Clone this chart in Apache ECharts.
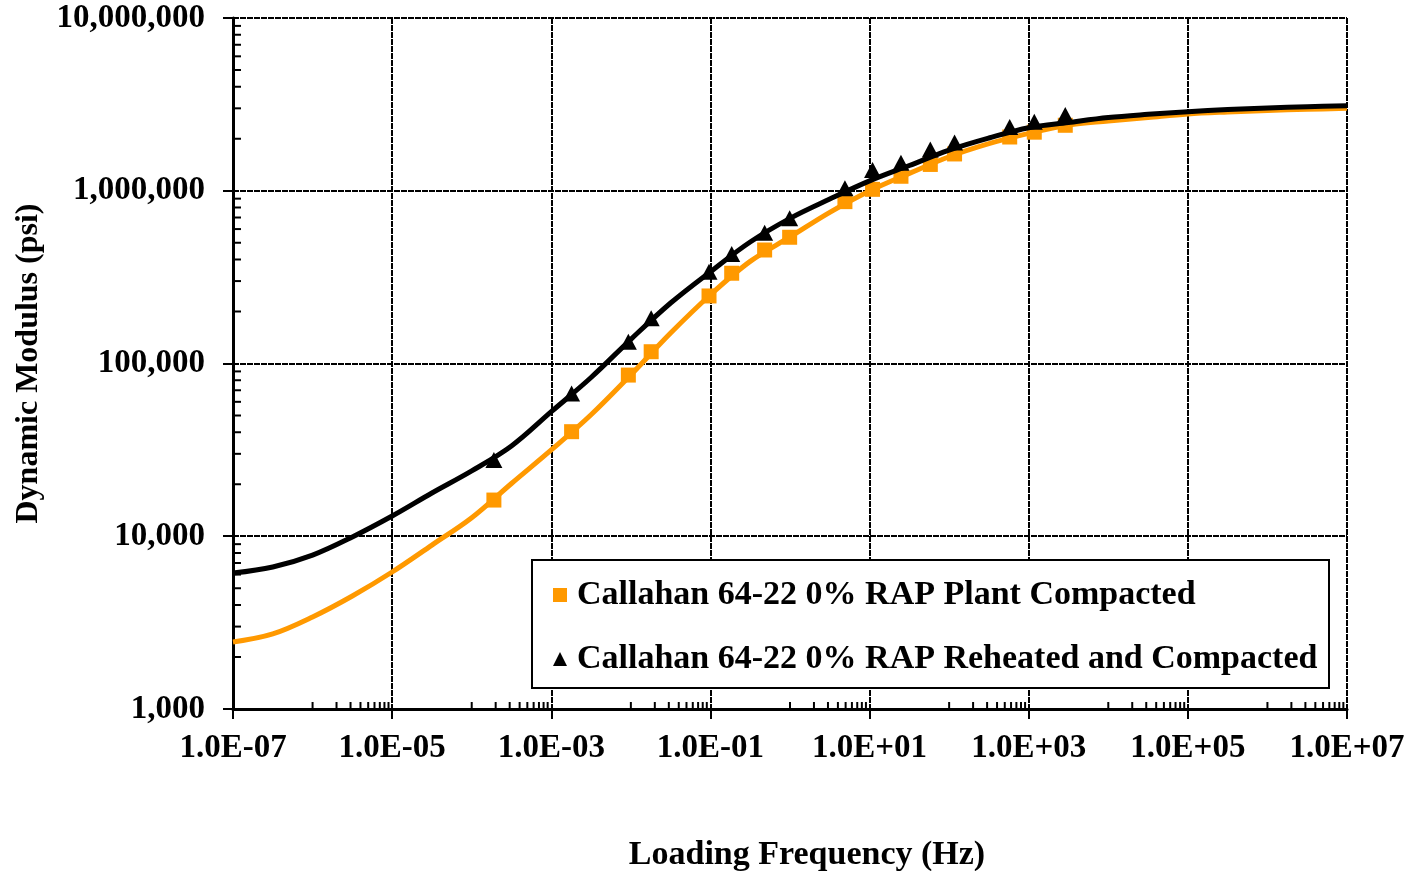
<!DOCTYPE html>
<html>
<head>
<meta charset="utf-8">
<script src="https://cdn.jsdelivr.net/npm/echarts@6/dist/echarts.min.js"></script>
<style>
  html, body { margin: 0; padding: 0; background: #fff; }
  #chart { width: 1412px; height: 871px; }
</style>
</head>
<body>
<div id="chart"></div>
<script>
const FONT = "'Times New Roman', 'Liberation Serif', serif";

// Fitted master curves, sampled every half decade of loading frequency (Hz)
const curveFreq = [1e-7, 3.16e-7, 1e-6, 3.16e-6, 1e-5, 3.16e-5, 1e-4, 3.16e-4, 1e-3, 3.16e-3,
                   1e-2, 3.16e-2, 1e-1, 3.16e-1, 1, 3.16, 10, 31.6, 100, 316,
                   1000, 3160, 1e4, 3.16e4, 1e5, 3.16e5, 1e6, 3.16e6, 1e7];
const plantCurve = [2440, 2720, 3410, 4510, 6210, 8890, 12800, 20200, 31600, 50500,
                    86000, 150000, 250000, 390000, 540000, 750000, 997000, 1260000, 1574000, 1873000,
                    2148000, 2403000, 2533000, 2655000, 2782000, 2856000, 2914000, 2962000, 3001000];
const reheatCurve = [6120, 6640, 7780, 9910, 13100, 17800, 23900, 33300, 52600, 83000,
                     138000, 224000, 340000, 505000, 692000, 895000, 1140000, 1400000, 1720000, 2020000,
                     2318000, 2485000, 2655000, 2770000, 2869000, 2954000, 3013000, 3062000, 3106000];

// Measured dynamic modulus (psi) at reduced frequency (Hz)
const testFreq = [1.9e-4, 1.8e-3, 9.3e-3, 0.018, 0.096, 0.185, 0.48, 0.99,
                  4.9, 10.9, 24.8, 58, 117, 577, 1175, 2880];
const plantMeasured = [16200, 40300, 85700, 117000, 246000, 333000, 454000, 538000,
                       865000, 1019000, 1213000, 1420000, 1633000, 2047000, 2183000, 2393000];
const reheatMeasured = [27600, 67100, 133700, 183000, 340000, 430000, 571000, 692000,
                        1033000, 1318000, 1452000, 1734000, 1901000, 2340000, 2511000, 2742000];

const seriesNames = ['Callahan 64-22 0% RAP Plant Compacted',
                     'Callahan 64-22 0% RAP Reheated and Compacted'];

// Axis ranges and minor tick marks
const X_MIN = 1e-7, X_MAX = 1e7, Y_MIN = 1000, Y_MAX = 1e7;
const xMinorDecades = [1e-6, 1e-4, 1e-2, 1, 1e2, 1e4, 1e6];
const xMinorSteps = [1, 2, 3, 4, 5, 6, 7, 8, 9];
const yMinorDecades = [1e3, 1e4, 1e5, 1e6];
const yMinorSteps = [2, 3, 4, 5, 6, 7, 8, 9];

const ORANGE = '#FF9900';

const xMinor = [];
xMinorDecades.forEach(d => xMinorSteps.forEach(s => xMinor.push([s * d, Y_MIN])));
const yMinor = [];
yMinorDecades.forEach(d => yMinorSteps.forEach(s => yMinor.push([X_MIN, s * d])));

function sciLabel(v) {
  const e = Math.round(Math.log10(v));
  return '1.0E' + (e < 0 ? '-' : '+') + String(Math.abs(e)).padStart(2, '0');
}
function commaLabel(v) {
  return Math.round(v).toLocaleString('en-US');
}

const textBase = { fontFamily: FONT, fontWeight: 'bold', color: '#000' };
const gridLine = { color: '#000', width: 2, type: [6, 1] };

const chart = echarts.init(document.getElementById('chart'), null, { renderer: 'canvas' });

chart.setOption({
  animation: false,
  backgroundColor: '#fff',
  grid: { left: 233, top: 18, width: 1114, height: 691, containLabel: false, outerBoundsMode: 'none' },
  xAxis: {
    type: 'log', logBase: 10, min: X_MIN, max: X_MAX, interval: 2,
    axisLine: { show: true, onZero: false, lineStyle: { color: '#000', width: 3 } },
    axisTick: { show: true, inside: false, length: 10, lineStyle: { color: '#000', width: 2 } },
    axisLabel: Object.assign({ formatter: sciLabel, margin: 23, fontSize: 33 }, textBase),
    splitLine: { show: true, lineStyle: gridLine },
    name: 'Loading Frequency (Hz)', nameLocation: 'middle', nameGap: 129,
    nameTextStyle: Object.assign({ fontSize: 34, padding: [0, 0, 0, 34] }, textBase)
  },
  yAxis: {
    type: 'log', logBase: 10, min: Y_MIN, max: Y_MAX, interval: 1,
    axisLine: { show: true, onZero: false, lineStyle: { color: '#000', width: 3 } },
    axisTick: { show: true, inside: false, length: 10, lineStyle: { color: '#000', width: 2 } },
    axisLabel: Object.assign({ formatter: commaLabel, margin: 28, fontSize: 33 }, textBase),
    splitLine: { show: true, lineStyle: gridLine },
    name: 'Dynamic Modulus (psi)', nameLocation: 'middle', nameGap: 188, nameRotate: 90,
    nameTextStyle: Object.assign({ fontSize: 32 }, textBase)
  },
  legend: {
    orient: 'vertical', left: 553, top: 578, padding: 0,
    itemWidth: 14, itemHeight: 14, itemGap: 30,
    textStyle: Object.assign({ fontSize: 34, lineHeight: 34, padding: [0, 0, 0, 5] }, textBase),
    data: [
      { name: seriesNames[0], icon: 'rect', itemStyle: { color: ORANGE, opacity: 1 } },
      { name: seriesNames[1], icon: 'triangle', itemStyle: { color: '#000', opacity: 1 } }
    ]
  },
  graphic: [{
    type: 'rect', left: 531, top: 559, z: 3,
    shape: { width: 797, height: 128 },
    style: { fill: '#fff', stroke: '#000', lineWidth: 2 }
  }],
  series: [
    {
      name: 'Plant Compacted fit', type: 'line', smooth: 0.35, showSymbol: false, symbol: 'none',
      data: curveFreq.map((f, i) => [f, plantCurve[i]]),
      lineStyle: { color: ORANGE, width: 5 }, itemStyle: { color: ORANGE }, z: 2
    },
    {
      name: seriesNames[0], type: 'scatter', symbol: 'rect', symbolSize: 15,
      data: testFreq.map((f, i) => [f, plantMeasured[i]]),
      itemStyle: { color: ORANGE, opacity: 1 }, z: 3
    },
    {
      name: 'Reheated and Compacted fit', type: 'line', smooth: 0.35, showSymbol: false, symbol: 'none',
      data: curveFreq.map((f, i) => [f, reheatCurve[i]]),
      lineStyle: { color: '#000', width: 5 }, itemStyle: { color: '#000' }, z: 4
    },
    {
      name: seriesNames[1], type: 'scatter', symbol: 'triangle', symbolSize: [17, 16],
      data: testFreq.map((f, i) => [f, reheatMeasured[i]]),
      itemStyle: { color: '#000', opacity: 1 }, z: 5
    },
    {
      name: 'x minor ticks', type: 'custom', silent: true, clip: false, z: 1,
      data: xMinor,
      renderItem: (params, api) => {
        const p = api.coord([api.value(0), api.value(1)]);
        return { type: 'line', shape: { x1: p[0], y1: p[1], x2: p[0], y2: p[1] - 7 },
                 style: { stroke: '#000', lineWidth: 2 } };
      }
    },
    {
      name: 'y minor ticks', type: 'custom', silent: true, clip: false, z: 1,
      data: yMinor,
      renderItem: (params, api) => {
        const p = api.coord([api.value(0), api.value(1)]);
        return { type: 'line', shape: { x1: p[0], y1: p[1], x2: p[0] + 8, y2: p[1] },
                 style: { stroke: '#000', lineWidth: 2 } };
      }
    }
  ]
});
</script>
</body>
</html>
